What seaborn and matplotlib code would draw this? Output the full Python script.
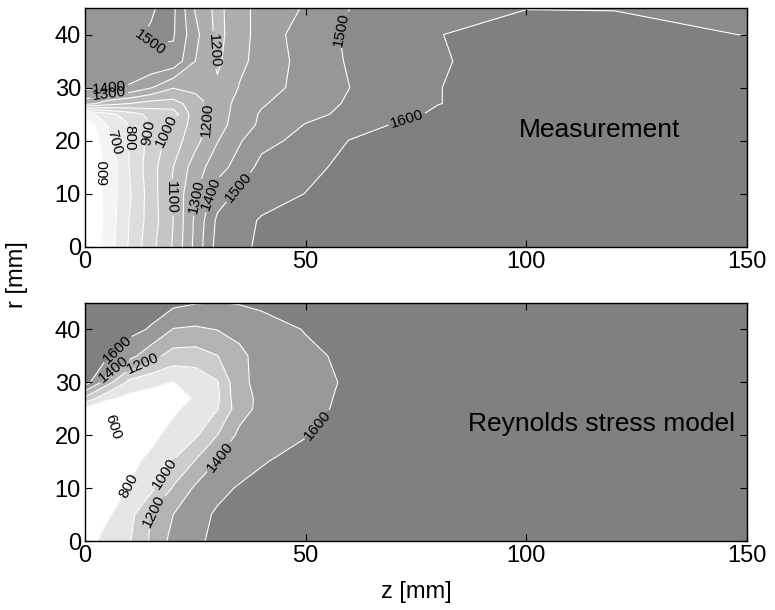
import numpy as np
import matplotlib
matplotlib.use("Agg")
import matplotlib.pyplot as plt
import seaborn as sns

# measured temperature field, rows = r, columns = z
z_meas = [0, 5, 10, 15, 20, 25, 30, 35, 40, 50, 60, 80, 100, 120, 150]
r_meas = [0, 5, 10, 15, 20, 23, 25, 27, 30, 35, 40, 45]
T_meas = [
    [480, 640, 810, 970, 1110, 1330, 1540, 1575, 1620, 1650, 1665, 1670, 1670, 1670, 1665],
    [490, 630, 800, 950, 1100, 1320, 1520, 1565, 1610, 1645, 1665, 1670, 1670, 1670, 1665],
    [500, 630, 785, 950, 1120, 1290, 1450, 1520, 1555, 1602, 1640, 1665, 1670, 1670, 1665],
    [520, 610, 800, 960, 1100, 1250, 1360, 1440, 1530, 1575, 1625, 1660, 1670, 1670, 1665],
    [520, 650, 800, 940, 1050, 1170, 1295, 1390, 1470, 1530, 1603, 1650, 1665, 1670, 1665],
    [520, 700, 800, 900, 1030, 1140, 1250, 1360, 1415, 1505, 1560, 1650, 1660, 1665, 1660],
    [650, 760, 850, 930, 950, 1160, 1240, 1350, 1410, 1470, 1525, 1615, 1650, 1660, 1655],
    [1250, 1150, 1100, 1060, 1060, 1150, 1250, 1330, 1390, 1460, 1510, 1598, 1640, 1650, 1645],
    [1420, 1410, 1390, 1305, 1205, 1230, 1220, 1305, 1340, 1450, 1500, 1598, 1640, 1655, 1645],
    [1450, 1460, 1470, 1490, 1470, 1300, 1180, 1280, 1330, 1440, 1510, 1592, 1640, 1655, 1640],
    [1460, 1470, 1490, 1505, 1510, 1330, 1170, 1260, 1340, 1450, 1515, 1598, 1630, 1625, 1598],
    [1460, 1470, 1485, 1495, 1520, 1290, 1170, 1270, 1330, 1410, 1500, 1560, 1598, 1597, 1580],
]

# Reynolds stress model prediction
z_rsm = [0, 5, 10, 15, 20, 25, 30, 35, 40, 50, 60, 80, 150]
r_rsm = [0, 5, 10, 15, 20, 25, 27, 30, 35, 40, 45]
T_rsm = [
    [700, 880, 980, 1230, 1470, 1560, 1650, 1680, 1700, 1710, 1710, 1710, 1710],
    [600, 770, 930, 1210, 1400, 1520, 1630, 1670, 1690, 1705, 1710, 1710, 1710],
    [560, 680, 810, 950, 1220, 1430, 1540, 1620, 1660, 1700, 1710, 1710, 1710],
    [540, 620, 740, 860, 1010, 1215, 1410, 1500, 1585, 1680, 1705, 1710, 1710],
    [520, 560, 650, 740, 880, 970, 1200, 1450, 1500, 1590, 1680, 1710, 1710],
    [760, 610, 620, 680, 760, 880, 990, 1310, 1460, 1540, 1650, 1710, 1710],
    [1150, 850, 740, 700, 720, 820, 960, 1350, 1430, 1520, 1650, 1710, 1710],
    [1700, 1280, 950, 860, 795, 860, 985, 1360, 1450, 1520, 1630, 1710, 1710],
    [1700, 1630, 1470, 1270, 1120, 1110, 1195, 1350, 1480, 1560, 1640, 1710, 1710],
    [1710, 1700, 1660, 1580, 1390, 1370, 1405, 1460, 1510, 1610, 1690, 1710, 1710],
    [1710, 1710, 1705, 1690, 1650, 1610, 1595, 1610, 1640, 1690, 1710, 1710, 1710],
]

levels_meas = list(range(600, 1700, 100))
levels_rsm = list(range(600, 1700, 200))

# where the isotherm labels sit (level -> points near the line)
labels_meas = {
    600: [(5, 14)], 700: [(10, 20)], 800: [(12.5, 20.5)], 900: [(14.5, 21.5)],
    1000: [(17.5, 22)], 1100: [(19.3, 9.4)], 1200: [(27, 37), (27, 24)],
    1300: [(5.7, 26.5), (25.4, 9.4)], 1400: [(5.7, 28.5), (28, 10.2)],
    1500: [(13.2, 37.5), (34.7, 11.3), (58, 41)], 1600: [(73, 24)],
}
labels_rsm = {
    600: [(4.9, 21)], 800: [(10.2, 10.3)], 1000: [(18.1, 12.8)],
    1200: [(13.6, 32.6), (16.2, 5.2)], 1400: [(7.2, 31.4), (32.5, 14.7)],
    1600: [(8.3, 35.5), (53.6, 21.3)],
}

sns.set_style("ticks")
plt.rcParams["font.family"] = ["Liberation Sans", "DejaVu Sans"]
plt.rcParams["text.color"] = "black"
plt.rcParams["axes.labelcolor"] = "black"
gray = sns.blend_palette(["white", "#808080"], as_cmap=True)


def draw_panel(ax, z, r, T, levels, vmin, name, text_x, label_pos):
    T = np.array(T, dtype=float)
    bounds = [0] + levels + [3000]
    fills = [gray(float(np.clip((b - vmin) / (1600 - vmin), 0, 1))) for b in bounds[:-1]]
    ax.contourf(z, r, T, levels=bounds, colors=fills)
    for lev in levels:
        cs = ax.contour(z, r, T, levels=[lev], colors="white", linewidths=0.8)
        pts = label_pos.get(lev)
        if pts:
            ax.clabel(cs, manual=pts, fmt="%d", fontsize=11, colors="black",
                      inline=True, inline_spacing=2)
    ax.set_axisbelow(False)
    ax.set_xlim(0, 150)
    ax.set_ylim(0, 45)
    ax.set_xticks([0, 50, 100, 150])
    ax.set_yticks([0, 10, 20, 30, 40])
    ax.tick_params(direction="in", top=True, right=True, length=5, width=0.8,
                   color="black", labelcolor="black", labelsize=17, pad=3)
    for s in ax.spines.values():
        s.set_linewidth(1.0)
        s.set_color("black")
    ax.text(text_x, 0.49, name, transform=ax.transAxes, fontsize=19,
            va="center", ha="left", color="black")


fig = plt.figure(figsize=(7.75, 6.10), dpi=100)
ax1 = fig.add_axes([0.1097, 0.5951, 0.8542, 0.3918])
ax2 = fig.add_axes([0.1097, 0.1131, 0.8542, 0.3902])

draw_panel(ax1, z_meas, r_meas, T_meas, levels_meas, 500, "Measurement", 0.655, labels_meas)
draw_panel(ax2, z_rsm, r_rsm, T_rsm, levels_rsm, 600, "Reynolds stress model", 0.578, labels_rsm)

fig.text(0.022, 0.55, "r [mm]", rotation=90, fontsize=17, va="center", ha="center")
ax2.set_xlabel("z [mm]", fontsize=17, labelpad=10)

fig.savefig("out.png", dpi=100)
